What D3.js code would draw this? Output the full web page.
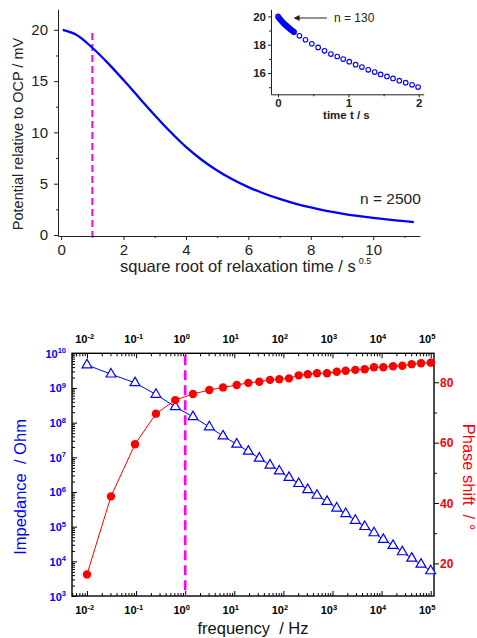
<!DOCTYPE html>
<html><head><meta charset="utf-8">
<script src="https://cdn.jsdelivr.net/npm/d3@7"></script>
<style>
body{margin:0;background:#fff;}
svg{display:block;}
text{font-family:"Liberation Sans", Arial, sans-serif;}
</style>
</head><body>
<svg id="c" width="477" height="638"></svg>
<script>
// ---------- DATA ----------
// main relaxation curve (sqrt of time / s^0.5, potential / mV)
const relaxSqrtTime = [0.05, 0.5, 1, 1.5, 2, 2.5, 3, 3.5, 4, 4.5, 5, 5.5, 6, 6.5, 7, 7.5, 8, 8.5, 9, 9.5, 10, 10.5, 11, 11.3];
const relaxPotential = [20.0, 19.5, 18.25, 16.75, 15.1, 13.38, 11.68, 10.06, 8.58, 7.33, 6.28, 5.40, 4.66, 4.04, 3.51, 3.06, 2.68, 2.36, 2.09, 1.86, 1.66, 1.49, 1.34, 1.25];
// inset: first 2 s of relaxation
const insetTime = [0, 0.01, 0.02, 0.03, 0.04, 0.05, 0.06, 0.07, 0.08, 0.09, 0.10, 0.11, 0.12, 0.13, 0.14, 0.15, 0.16, 0.17, 0.18, 0.19, 0.20, 0.21, 0.22, 0.228,
  0.304, 0.390, 0.480, 0.570, 0.660, 0.751, 0.841, 0.926, 1.012, 1.102, 1.192, 1.282, 1.373, 1.458, 1.548, 1.634, 1.724, 1.814, 1.905, 1.990];
const insetPotential = [20.00, 19.92, 19.85, 19.79, 19.73, 19.67, 19.62, 19.57, 19.52, 19.47, 19.42, 19.38, 19.33, 19.29, 19.25, 19.20, 19.16, 19.12, 19.08, 19.04, 19.00, 18.96, 18.92, 18.89,
  18.63, 18.35, 18.07, 17.81, 17.57, 17.34, 17.17, 16.99, 16.80, 16.59, 16.42, 16.23, 16.07, 15.90, 15.76, 15.62, 15.46, 15.32, 15.17, 15.01];
// impedance spectrum
const frequency = [0.01, 0.0308, 0.095, 0.254, 0.628, 1.44, 3.1, 5.89, 11.2, 19.3, 32.3, 53.3, 82.5, 130, 205, 313, 483, 773, 1219, 1858, 2913, 4528, 7000, 10830, 17070, 26400, 41000, 63400, 100000];
const impedance = [4.6e9, 2.5e9, 1.41e9, 6.5e8, 2.85e8, 1.47e8, 7.5e7, 4.1e7, 2.38e7, 1.49e7, 9.4e6, 5.9e6, 4.0e6, 2.6e6, 1.74e6, 1.16e6, 7.96e5, 5.3e5, 3.4e5, 2.36e5, 1.51e5, 1.0e5, 6.6e4, 4.25e4, 2.85e4, 1.87e4, 1.22e4, 8.2e3, 5.3e3];
const phaseShift = [16.35, 42.2, 59.45, 69.6, 74.1, 76.1, 77.45, 78.3, 79.1, 79.8, 80.2, 80.8, 81.0, 81.3, 82.3, 82.65, 83.0, 83.0, 83.5, 83.8, 84.1, 84.3, 85.0, 85.0, 85.3, 85.5, 86.0, 86.3, 86.5];
// tick labels
const topXTicks = [0, 2, 4, 6, 8, 10];
const topXMinor = [1, 3, 5, 7, 9, 11];
const topYTicks = [0, 5, 10, 15, 20];
const topYMinor = [2.5, 7.5, 12.5, 17.5];
const insetXTicks = [0, 1, 2];
const insetXMinor = [0.5, 1.5];
const insetYTicks = [16, 18, 20];
const insetYMinor = [15, 17, 19];
const freqTickExponents = [-2, -1, 0, 1, 2, 3, 4, 5];
const impTickExponents = [3, 4, 5, 6, 7, 8, 9, 10];
const phaseTicks = [20, 40, 60, 80];
const phaseMinor = [30, 50, 70];

// ---------- DRAW ----------
const svg = d3.select("#c");
const ink = "#222";

function styleAxis(g, color, fs, bold) {
  g.selectAll("path,line").attr("stroke", color).attr("stroke-width", 1);
  g.selectAll("text").attr("fill", color).attr("font-size", fs).attr("font-family", "Liberation Sans, Arial, sans-serif")
    .attr("font-weight", bold ? "bold" : "normal");
}
const fmtInt = d3.format("d");

// ===== Top chart =====
const x1 = d3.scaleLinear().domain([-0.1, 11.5]).range([58, 420]);
const y1 = d3.scaleLinear().domain([-0.1, 22]).range([236, 9.3]);

const gx1 = svg.append("g").attr("transform", "translate(0,236)")
  .call(d3.axisBottom(x1).tickValues(topXTicks).tickSize(4).tickSizeOuter(0).tickPadding(4).tickFormat(fmtInt));
styleAxis(gx1, ink, 15, false);
svg.append("g").attr("transform", "translate(0,236)")
  .call(d3.axisBottom(x1).tickValues(topXMinor).tickSize(2).tickSizeOuter(0).tickFormat(""))
  .call(g => { g.select(".domain").remove(); styleAxis(g, ink, 10, false); });

const gy1 = svg.append("g").attr("transform", "translate(58,0)")
  .call(d3.axisLeft(y1).tickValues(topYTicks).tickSize(4).tickSizeOuter(0).tickPadding(6).tickFormat(fmtInt));
styleAxis(gy1, ink, 15, false);
svg.append("g").attr("transform", "translate(58,0)")
  .call(d3.axisLeft(y1).tickValues(topYMinor).tickSize(2).tickSizeOuter(0).tickFormat(""))
  .call(g => { g.select(".domain").remove(); styleAxis(g, ink, 10, false); });

// dashed marker at sqrt(t)=1
svg.append("line").attr("x1", x1(1)).attr("x2", x1(1)).attr("y1", y1(19.7)).attr("y2", y1(-0.1))
  .attr("stroke", "#ff00ff").attr("stroke-width", 2).attr("stroke-dasharray", "7,4");

const relaxData = relaxSqrtTime.map((s, i) => [s, relaxPotential[i]]);
svg.append("path").datum(relaxData)
  .attr("d", d3.line().x(d => x1(d[0])).y(d => y1(d[1])).curve(d3.curveMonotoneX))
  .attr("fill", "none").attr("stroke", "#0000ff").attr("stroke-width", 2.3);

svg.append("text").attr("x", 360).attr("y", 204).attr("font-size", 15.5).attr("fill", ink).text("n = 2500");

const xt = svg.append("text").attr("x", 120).attr("y", 272).attr("font-size", 16.5).attr("fill", ink);
xt.append("tspan").text("square root of relaxation time / s");
xt.append("tspan").attr("dx", 3).attr("dy", -8).attr("font-size", 9).text("0.5");

svg.append("text").attr("transform", "translate(23,134) rotate(-90)").attr("text-anchor", "middle")
  .attr("font-size", 14.5).attr("fill", ink).text("Potential relative to OCP / mV");

// ===== Inset =====
const xi = d3.scaleLinear().domain([-0.1, 2.07]).range([271, 423.7]);
const yi = d3.scaleLinear().domain([14.5, 20.5]).range([94.3, 9.3]);
const gxi = svg.append("g").attr("transform", "translate(0,94.3)")
  .call(d3.axisBottom(xi).tickValues(insetXTicks).tickSize(3).tickSizeOuter(0).tickPadding(2).tickFormat(fmtInt));
styleAxis(gxi, ink, 11.5, true);
svg.append("g").attr("transform", "translate(0,94.3)")
  .call(d3.axisBottom(xi).tickValues(insetXMinor).tickSize(2).tickSizeOuter(0).tickFormat(""))
  .call(g => { g.select(".domain").remove(); styleAxis(g, ink, 10, false); });
const gyi = svg.append("g").attr("transform", "translate(271,0)")
  .call(d3.axisLeft(yi).tickValues(insetYTicks).tickSize(3).tickSizeOuter(0).tickPadding(2).tickFormat(fmtInt));
styleAxis(gyi, ink, 11.5, true);
svg.append("g").attr("transform", "translate(271,0)")
  .call(d3.axisLeft(yi).tickValues(insetYMinor).tickSize(2).tickSizeOuter(0).tickFormat(""))
  .call(g => { g.select(".domain").remove(); styleAxis(g, ink, 10, false); });

svg.append("text").attr("x", xi(1) - 2).attr("y", 119).attr("text-anchor", "middle")
  .attr("font-size", 11.5).attr("font-weight", "bold").attr("fill", ink).text("time t / s");

const insetData = insetTime.map((t, i) => [t, insetPotential[i]]);
svg.append("g").selectAll("circle").data(insetData).join("circle")
  .attr("cx", d => xi(d[0])).attr("cy", d => yi(d[1])).attr("r", 2.3)
  .attr("fill", "none").attr("stroke", "#0000ff").attr("stroke-width", 1.1);

// arrow + n = 130
svg.append("defs").append("marker").attr("id", "ah").attr("viewBox", "0 0 10 10")
  .attr("refX", 1).attr("refY", 5).attr("markerWidth", 6).attr("markerHeight", 6)
  .attr("orient", "auto-start-reverse").append("path").attr("d", "M0,0 L10,5 L0,10 z").attr("fill", ink);
svg.append("line").attr("x1", 327).attr("y1", 18).attr("x2", 299).attr("y2", 18)
  .attr("stroke", ink).attr("stroke-width", 1).attr("marker-end", "url(#ah)");
svg.append("text").attr("x", 334).attr("y", 22).attr("font-size", 12).attr("fill", ink).text("n = 130");

// ===== Bottom chart =====
const L = 72, R = 434, T = 353.3, B = 596;
const x2 = d3.scaleLog().domain([0.00495, 116700]).range([L, R]);
const yZ = d3.scaleLog().domain([1e3, 1e10]).range([B, T]);
const yP = d3.scaleLinear().domain([9.2, 89.6]).range([B, T]);

const blue = "#0000ff", red = "#ff0000";
const isPow = v => Math.abs(Math.log10(v) - Math.round(Math.log10(v))) < 1e-6;
const xMinor = x2.ticks().filter(v => !isPow(v));
const yMinor = yZ.ticks().filter(v => !isPow(v));
const xMajor = freqTickExponents.map(e => Math.pow(10, e));
const yMajor = impTickExponents.map(e => Math.pow(10, e));

function tickG(axisFn, tr, vals, size) {
  svg.append("g").attr("transform", tr)
    .call(axisFn.tickValues(vals).tickSize(size).tickSizeOuter(0).tickFormat(""))
    .call(g => { g.select(".domain").remove(); g.selectAll("line").attr("stroke", "#000").attr("stroke-width", 1); });
}
// bottom & top (inward)
tickG(d3.axisTop(x2), `translate(0,${B})`, xMajor, 5);
tickG(d3.axisTop(x2), `translate(0,${B})`, xMinor, 3);
tickG(d3.axisBottom(x2), `translate(0,${T})`, xMajor, 5);
tickG(d3.axisBottom(x2), `translate(0,${T})`, xMinor, 3);
// left (inward)
tickG(d3.axisRight(yZ), `translate(${L},0)`, yMajor, 5);
tickG(d3.axisRight(yZ), `translate(${L},0)`, yMinor, 3);
// right (outward)
tickG(d3.axisRight(yP), `translate(${R},0)`, phaseTicks, 5);
tickG(d3.axisRight(yP), `translate(${R},0)`, phaseMinor, 3);

svg.append("rect").attr("x", L).attr("y", T).attr("width", R - L).attr("height", B - T)
  .attr("fill", "none").attr("stroke", "#000").attr("stroke-width", 1.4);

// power labels
function powLabel(x, y, exp, color, mode) {
  const t = svg.append("text").attr("y", y).attr("font-weight", "bold").attr("fill", color).attr("font-size", 11);
  const base = t.append("tspan").text("10");
  t.append("tspan").attr("dy", -4.5).attr("font-size", 7.5).text(exp < 0 ? "-" + Math.abs(exp) : String(exp));
  if (mode === "end") { t.attr("x", x).attr("text-anchor", "end"); }
  else { const w = base.node().getComputedTextLength(); t.attr("x", x - w + 0.5); }
}
freqTickExponents.forEach(e => {
  powLabel(x2(Math.pow(10, e)), 614, e, "#000", "base");
  powLabel(x2(Math.pow(10, e)), 343, e, "#000", "base");
});
impTickExponents.forEach(e => powLabel(66, yZ(Math.pow(10, e)) + 4.5, e, blue, "end"));
phaseTicks.forEach(v => svg.append("text").attr("x", 440).attr("y", yP(v) + 4.5)
  .attr("font-size", 12).attr("font-weight", "bold").attr("fill", red).text(v));

// dashed marker at 1 Hz
svg.append("line").attr("x1", x2(1)).attr("x2", x2(1)).attr("y1", T + 2).attr("y2", B)
  .attr("stroke", "#ff00ff").attr("stroke-width", 2.6).attr("stroke-dasharray", "10,5");

const impData = frequency.map((f, i) => [f, impedance[i]]);
const phData = frequency.map((f, i) => [f, phaseShift[i]]);

svg.append("path").datum(impData).attr("d", d3.line().x(d => x2(d[0])).y(d => yZ(d[1])))
  .attr("fill", "none").attr("stroke", blue).attr("stroke-width", 1);
svg.append("path").datum(phData).attr("d", d3.line().x(d => x2(d[0])).y(d => yP(d[1])))
  .attr("fill", "none").attr("stroke", red).attr("stroke-width", 1);

svg.append("g").selectAll("path").data(impData).join("path")
  .attr("transform", d => `translate(${x2(d[0])},${yZ(d[1])})`)
  .attr("d", d3.symbol(d3.symbolTriangle, 42))
  .attr("fill", "#fff").attr("stroke", blue).attr("stroke-width", 1.2);
svg.append("g").selectAll("circle").data(phData).join("circle")
  .attr("cx", d => x2(d[0])).attr("cy", d => yP(d[1])).attr("r", 4.2).attr("fill", red);

// axis titles
svg.append("text").attr("x", 253).attr("y", 634).attr("text-anchor", "middle")
  .attr("font-size", 16.5).attr("fill", "#111").attr("xml:space", "preserve").text("frequency  / Hz");
svg.append("text").attr("transform", "translate(26,487) rotate(-90)").attr("text-anchor", "middle")
  .attr("font-size", 16.5).attr("fill", blue).attr("xml:space", "preserve").text("Impedance  / Ohm");
svg.append("text").attr("transform", "translate(463,477) rotate(90)").attr("text-anchor", "middle")
  .attr("font-size", 16.5).attr("fill", red).attr("xml:space", "preserve").text("Phase shift  / °");
</script>
</body></html>
